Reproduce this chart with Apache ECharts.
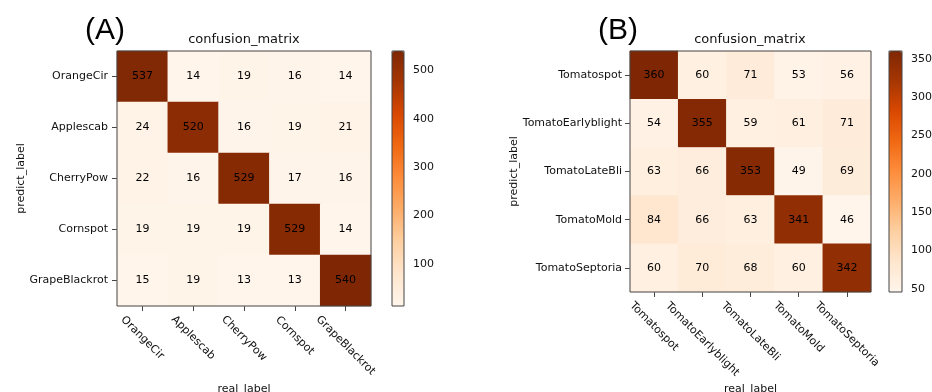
<!DOCTYPE html>
<html>
<head>
<meta charset="utf-8">
<script src="https://cdn.jsdelivr.net/npm/echarts@6/dist/echarts.min.js"></script>
<style>
html,body{margin:0;padding:0;background:#fff;}
#chart{width:932px;height:392px;}
</style>
</head>
<body>
<div id="chart"></div>
<script>
// ---- data ----
const catsA = ['OrangeCir', 'Applescab', 'CherryPow', 'Cornspot', 'GrapeBlackrot'];
const rowOrangeCir = [537, 14, 19, 16, 14];
const rowApplescab = [24, 520, 16, 19, 21];
const rowCherryPow = [22, 16, 529, 17, 16];
const rowCornspot = [19, 19, 19, 529, 14];
const rowGrapeBlackrot = [15, 19, 13, 13, 540];
const matrixA = [rowOrangeCir, rowApplescab, rowCherryPow, rowCornspot, rowGrapeBlackrot];

const catsB = ['Tomatospot', 'TomatoEarlyblight', 'TomatoLateBli', 'TomatoMold', 'TomatoSeptoria'];
const rowTomatospot = [360, 60, 71, 53, 56];
const rowTomatoEarlyblight = [54, 355, 59, 61, 71];
const rowTomatoLateBli = [63, 66, 353, 49, 69];
const rowTomatoMold = [84, 66, 63, 341, 46];
const rowTomatoSeptoria = [60, 70, 68, 60, 342];
const matrixB = [rowTomatospot, rowTomatoEarlyblight, rowTomatoLateBli, rowTomatoMold, rowTomatoSeptoria];

const cbarTicksA = [100, 200, 300, 400, 500];
const cbarTicksB = [50, 100, 150, 200, 250, 300, 350];

// ---- helpers ----
const FONT = 'DejaVu Sans';
const TXT = '#111';
const LINE = '#444';
const oranges = ['#fff5eb', '#fee6ce', '#fdd0a2', '#fdae6b', '#fd8d3c', '#f16913', '#d94801', '#a63603', '#7f2704'];

function toCells(m) {
  const out = [];
  m.forEach((row, y) => row.forEach((v, x) => out.push([x, y, v])));
  return out;
}
function flatMin(m) { return Math.min.apply(null, m.flat()); }
function flatMax(m) { return Math.max.apply(null, m.flat()); }

const ctx = document.createElement('canvas').getContext('2d');
ctx.font = '11px "' + FONT + '"';
function richFor(cats) {
  const rich = {};
  cats.forEach((c, i) => {
    const p = Math.round(ctx.measureText(c).width / 2);
    rich['p' + i] = { padding: [p, 0, 0, p], fontSize: 11, fontFamily: FONT, color: TXT };
  });
  return rich;
}

function heatX(gridIndex, cats, nameGap) {
  return {
    type: 'category', gridIndex: gridIndex, data: cats,
    name: 'real_label', nameLocation: 'middle', nameGap: nameGap, nameMoveOverlap: false,
    nameTextStyle: { fontSize: 11, fontFamily: FONT, color: TXT },
    axisLine: { show: false },
    axisTick: { show: true, alignWithLabel: true, length: 5, lineStyle: { color: LINE } },
    axisLabel: {
      interval: 0, rotate: -45, align: 'center', verticalAlign: 'middle', margin: 12,
      fontSize: 11, fontFamily: FONT, color: TXT,
      formatter: (v, i) => '{p' + i + '|' + v + '}',
      rich: richFor(cats)
    },
    splitLine: { show: false }, splitArea: { show: false }
  };
}
function heatY(gridIndex, cats, nameGap, margin) {
  return {
    type: 'category', gridIndex: gridIndex, data: cats, inverse: true,
    name: 'predict_label', nameLocation: 'middle', nameGap: nameGap, nameRotate: 90, nameMoveOverlap: false,
    nameTextStyle: { fontSize: 11, fontFamily: FONT, color: TXT },
    axisLine: { show: false },
    axisTick: { show: true, alignWithLabel: true, length: 5, lineStyle: { color: LINE } },
    axisLabel: { interval: 0, margin: margin, fontSize: 11, fontFamily: FONT, color: TXT },
    splitLine: { show: false }, splitArea: { show: false }
  };
}
function cbarX(gridIndex) {
  return { type: 'value', gridIndex: gridIndex, show: false, min: 0, max: 1 };
}
function cbarY(gridIndex, min, max, ticks) {
  return {
    type: 'value', gridIndex: gridIndex, position: 'right', min: min, max: max,
    axisLine: { show: false },
    axisTick: { show: true, length: 4, lineStyle: { color: LINE }, customValues: ticks },
    axisLabel: { show: true, margin: 9, fontSize: 11, fontFamily: FONT, color: TXT, customValues: ticks },
    splitLine: { show: false }
  };
}
function gridBox(left, top, width, height) {
  return {
    left: left, top: top, width: width, height: height, show: true, z: 5,
    backgroundColor: 'transparent', borderColor: LINE, borderWidth: 1,
    outerBoundsMode: 'none', containLabel: false
  };
}
function heatSeries(idx, m) {
  return {
    type: 'heatmap', xAxisIndex: idx, yAxisIndex: idx, data: toCells(m),
    label: { show: true, fontSize: 11, fontFamily: FONT, color: '#000', formatter: p => p.value[2] },
    itemStyle: { borderWidth: 0 },
    emphasis: { disabled: true }
  };
}
function vmap(seriesIndex, min, max, left, top, w, h) {
  return {
    type: 'continuous', seriesIndex: seriesIndex, min: min, max: max,
    orient: 'vertical', left: left, top: top, itemWidth: w, itemHeight: h,
    calculable: false, hoverLink: false, padding: 0, text: null,
    inRange: { color: oranges }
  };
}

const minA = flatMin(matrixA), maxA = flatMax(matrixA);
const minB = flatMin(matrixB), maxB = flatMax(matrixB);

const option = {
  animation: false,
  backgroundColor: '#fff',
  title: [
    { text: '(A)', left: 85, top: 16, padding: 0, textStyle: { fontSize: 30, fontFamily: 'Liberation Sans', fontWeight: 'normal', color: '#000' } },
    { text: 'confusion_matrix', left: 244, textAlign: 'center', top: 33, padding: 0, textStyle: { fontSize: 13, fontFamily: FONT, fontWeight: 'normal', color: TXT } },
    { text: '(B)', left: 598, top: 16, padding: 0, textStyle: { fontSize: 30, fontFamily: 'Liberation Sans', fontWeight: 'normal', color: '#000' } },
    { text: 'confusion_matrix', left: 750, textAlign: 'center', top: 33, padding: 0, textStyle: { fontSize: 13, fontFamily: FONT, fontWeight: 'normal', color: TXT } }
  ],
  grid: [
    gridBox(117, 51, 254, 255),
    gridBox(392, 51, 12, 255),
    gridBox(630, 51, 241, 241),
    gridBox(889, 51, 13, 241)
  ],
  xAxis: [heatX(0, catsA, 78), cbarX(1), heatX(2, catsB, 92), cbarX(3)],
  yAxis: [heatY(0, catsA, 90, 9), cbarY(1, minA, maxA, cbarTicksA), heatY(2, catsB, 110, 8), cbarY(3, minB, maxB, cbarTicksB)],
  visualMap: [
    vmap(0, minA, maxA, 392, 51, 12, 255),
    vmap(1, minB, maxB, 889, 51, 13, 241)
  ],
  series: [heatSeries(0, matrixA), heatSeries(2, matrixB)]
};

const chart = echarts.init(document.getElementById('chart'), null, { renderer: 'canvas' });
chart.setOption(option);
</script>
</body>
</html>
